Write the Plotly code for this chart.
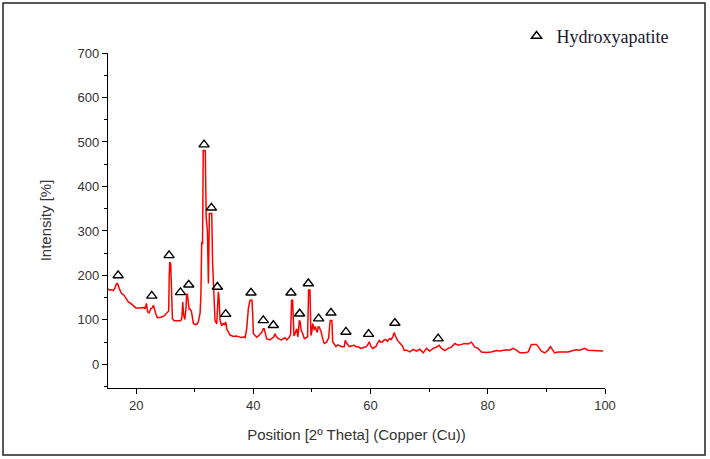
import plotly.graph_objects as go

# XRD pattern (2-theta, intensity)
two_theta = [15.2, 15.5, 15.8, 16.1, 16.4, 16.6, 16.82, 17.0, 17.2, 17.5, 17.95, 18.3, 18.7, 19.09, 19.5,
             19.94, 20.5, 21.0, 21.36, 21.5, 21.76, 21.95, 22.2, 22.5, 22.8, 22.95, 23.15, 23.4, 23.64,
             24.2, 24.77, 25.34, 25.55, 25.65, 25.74, 25.9, 26.05, 26.19, 26.48, 27.0, 27.61, 27.8, 27.95,
             28.1, 28.3, 28.5, 28.62, 28.75, 28.9, 29.05, 29.2, 29.43, 29.6, 29.77, 30.05, 30.34, 30.6,
             30.91, 31.05, 31.19, 31.33, 31.45, 31.6, 31.8, 31.95, 32.16, 32.33, 32.5, 32.7, 32.9, 33.05,
             33.18, 33.3, 33.46, 33.75, 33.9, 34.03, 34.15, 34.32, 34.6, 34.85, 35.1, 35.3, 35.45, 35.75,
             36.02, 36.59, 37.1, 37.6, 38.0, 38.3, 38.6, 38.86, 39.15, 39.43, 39.6, 39.77, 39.9, 40.0, 40.3,
             40.57, 40.85, 41.14, 41.45, 41.7, 41.85, 42.0, 42.27, 42.84, 43.2, 43.5, 43.69, 43.95, 44.26,
             44.83, 45.1, 45.4, 45.7, 45.96, 46.2, 46.36, 46.53, 46.7, 46.85, 46.93, 47.15, 47.39, 47.6,
             47.85, 48.0, 48.15, 48.4, 48.7, 49.0, 49.25, 49.43, 49.55, 49.66, 49.83, 50.0, 50.12, 50.25,
             50.4, 50.55, 50.7, 50.9, 51.05, 51.25, 51.4, 51.54, 51.82, 52.1, 52.5, 52.85, 53.1, 53.24,
             53.41, 53.53, 53.8, 54.1, 54.4, 54.66, 55.1, 55.5, 55.68, 55.9, 56.37, 56.8, 57.22, 57.5,
             57.79, 58.1, 58.36, 58.8, 59.3, 59.6, 59.78, 60.0, 60.34, 60.6, 60.9, 61.2, 61.48, 61.75,
             62.05, 62.3, 62.6, 62.9, 63.2, 63.5, 63.8, 64.04, 64.2, 64.6, 64.9, 65.17, 65.4, 65.74,
             66.14, 66.7, 67.27, 67.84, 68.4, 68.98, 69.55, 70.1, 70.68, 71.25, 71.7, 72.1, 72.67, 73.24,
             73.8, 74.38, 74.94, 75.5, 76.08, 76.65, 77.2, 77.8, 78.35, 78.92, 79.77, 80.6, 81.48, 82.05,
             82.6, 83.2, 83.75, 84.32, 84.9, 85.46, 86.3, 86.9, 87.28, 87.45, 87.9, 88.3, 88.6, 89.15,
             89.72, 90.29, 90.7, 91.03, 91.4, 92.0, 92.85, 93.7, 94.27, 95.0, 95.7, 96.54, 97.1, 97.96,
             98.8, 99.66]
intensity = [170, 167, 168, 166, 172, 180, 182, 172, 168, 160, 155, 148, 140, 137, 132,
             127, 127, 127, 128, 125, 137, 118, 116, 125, 128, 133, 120, 112, 105,
             106, 109, 116, 120, 200, 230, 226, 120, 103, 98, 98, 98, 104, 140,
             112, 101, 125, 158, 158, 130, 124, 124, 120, 105, 92, 90, 90, 95,
             115, 155, 275, 270, 481, 481, 481, 331, 300, 182, 339, 339, 339, 227,
             180, 120, 99, 91, 120, 163, 150, 99, 87, 92, 90, 95, 80, 72,
             66, 63, 64, 62, 60, 62, 60, 80, 126, 144, 144, 144, 110, 69, 65,
             61, 64, 69, 72, 80, 80, 72, 58, 55, 58, 62, 69, 62, 58,
             55, 58, 60, 55, 58, 62, 69, 144, 144, 90, 64, 70, 80, 62,
             99, 95, 77, 70, 58, 60, 62, 167, 167, 167, 65, 75, 92, 80,
             77, 85, 81, 72, 84, 84, 78, 75, 58, 47, 50, 60, 99, 99,
             99, 51, 45, 40, 44, 42, 40, 40, 54, 48, 40, 42, 43, 40,
             40, 38, 36, 38, 40, 46, 51, 42, 36, 38, 40, 48, 54, 50,
             51, 55, 56, 52, 58, 56, 62, 72, 65, 54, 50, 47, 42, 32,
             32, 28, 34, 30, 34, 26, 36, 30, 36, 39, 43, 36, 31, 36,
             39, 47, 43, 45, 47, 46, 50, 39, 36, 28, 27, 28, 31, 30,
             32, 33, 32, 36, 32, 26, 26, 28, 40, 45, 45, 45, 40, 30,
             26, 32, 40, 32, 26, 28, 28, 28, 30, 33, 32, 36, 32, 32,
             31, 30]

# Hydroxyapatite peak markers
hap_theta = [16.93, 22.67, 25.62, 27.56, 28.98, 31.59, 32.84, 33.86, 35.28, 39.6, 41.7, 43.41,
             46.42, 47.9, 49.38, 51.14, 53.24, 55.8, 59.66, 64.15, 71.53]
hap_marker_y = [200, 154, 245, 162, 179, 494, 352, 174, 113, 161, 99, 88,
                161, 114, 182, 103, 116, 73, 68, 93, 58]

fig = go.Figure()
fig.add_trace(go.Scatter(x=two_theta, y=intensity, mode="lines",
                         line=dict(color="#ff0000", width=1.5), showlegend=False))
fig.add_trace(go.Scatter(x=hap_theta, y=hap_marker_y, mode="markers", name="Hydroxyapatite",
                         marker=dict(symbol="triangle-up-open", size=9, color="black",
                                     line=dict(width=1.4, color="black"))))

axis_font = dict(family="Liberation Sans, Arial, sans-serif", size=13, color="#333333")
title_font = dict(family="Liberation Sans, Arial, sans-serif", size=15, color="#333333")

fig.update_layout(
    width=710, height=459,
    margin=dict(l=108, r=105, t=53, b=71),
    paper_bgcolor="white", plot_bgcolor="white",
    xaxis=dict(range=[15.2, 100], tick0=0, dtick=20, ticks="outside", ticklen=5, tickwidth=1.2,
               tickcolor="black", showline=True, linecolor="black", linewidth=1.3,
               showgrid=False, zeroline=False, tickfont=axis_font,
               minor=dict(dtick=10, ticks="outside", ticklen=3, tickcolor="black", tickwidth=1),
               title=dict(text="Position [2º Theta] (Copper (Cu))", font=title_font, standoff=17)),
    yaxis=dict(range=[-53, 700], tick0=0, dtick=100, ticks="outside", ticklen=5, tickwidth=1.2,
               tickcolor="black", showline=True, linecolor="black", linewidth=1.3,
               showgrid=False, zeroline=False, tickfont=axis_font,
               minor=dict(dtick=50, ticks="outside", ticklen=3, tickcolor="black", tickwidth=1),
               title=dict(text="Intensity [%]", font=title_font, standoff=22)),
    legend=dict(x=0.822, y=1.05, xanchor="left", yanchor="middle", bgcolor="rgba(0,0,0,0)",
                font=dict(family="Liberation Serif, Times New Roman, serif", size=18, color="#1a1a2e")),
    shapes=[dict(type="rect", xref="paper", yref="paper",
                 x0=(3 - 108) / 497, x1=(705 - 108) / 497,
                 y0=(388 - 455) / 335, y1=(388 - 3) / 335,
                 line=dict(color="#222222", width=1.5))],
)

fig.write_html("out.html")
